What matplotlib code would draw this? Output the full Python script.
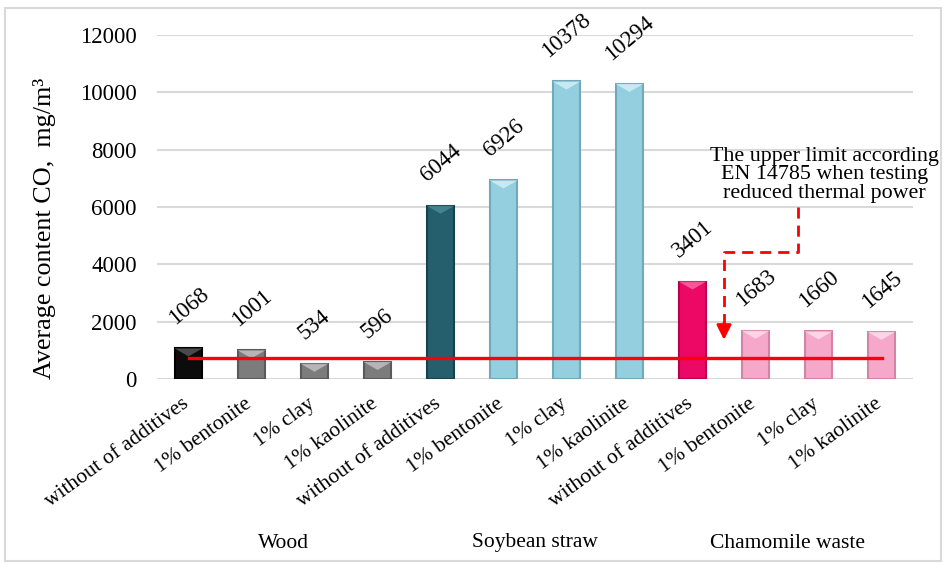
import matplotlib
matplotlib.use('Agg')
import matplotlib.pyplot as plt
import matplotlib.transforms as mtransforms
from matplotlib.patches import Polygon, Rectangle

plt.rcParams['font.family'] = ['Liberation Serif', 'DejaVu Serif']

groups = ['Wood', 'Soybean straw', 'Chamomile waste']
additives = ['without of additives', '1% bentonite', '1% clay', '1% kaolinite']
co_values = [1068, 1001, 534, 596,
             6044, 6926, 10378, 10294,
             3401, 1683, 1660, 1645]
co_limit = 750
yticks = [0, 2000, 4000, 6000, 8000, 10000, 12000]
note = 'The upper limit according\nEN 14785 when testing\nreduced thermal power'

# face / edge / highlight colours for each bar
main_cols = ['#0c0c0c', '#7c7c7c', '#7c7c7c', '#7c7c7c',
             '#255f6d', '#94cfe0', '#94cfe0', '#94cfe0',
             '#ec0865', '#f6a8ca', '#f6a8ca', '#f6a8ca']
edge_cols = ['#000000', '#5a5a5a', '#5a5a5a', '#5a5a5a',
             '#17414b', '#6fa9ba', '#6fa9ba', '#6fa9ba',
             '#b8004a', '#d383a6', '#d383a6', '#d383a6']
light_cols = ['#5a5a5a', '#c4c4c4', '#c4c4c4', '#c4c4c4',
              '#4f8a99', '#d4f0f8', '#d4f0f8', '#d4f0f8',
              '#ff6aa3', '#fde0ee', '#fde0ee', '#fde0ee']

labels = additives * len(groups)
x = list(range(len(co_values)))
width = 0.44

fig = plt.figure(figsize=(9.46, 5.63), dpi=100)
ax = fig.add_axes([157 / 946, 1 - 379 / 563, 756 / 946, 344 / 563])

ax.bar(x, co_values, width=width, color=main_cols, edgecolor=edge_cols,
       linewidth=1.5, zorder=3)
# light bevel on the top of every bar
bevel = 280
for i, v in zip(x, co_values):
    tri = Polygon([(i - width / 2, v), (i + width / 2, v), (i, v - bevel)],
                  closed=True, facecolor=light_cols[i], edgecolor='none',
                  alpha=0.8, zorder=4)
    ax.add_patch(tri)
    ax.annotate(str(v), (i, v), xytext=(0, 14), textcoords='offset points',
                rotation=40, ha='center', va='bottom', fontsize=16.5,
                annotation_clip=False)

# limit line
ax.plot([x[0], x[-1]], [co_limit, co_limit], color='#ff0000', lw=2.4, zorder=5)

# dashed pointer from the note down to the limit line
ax.plot([9.68, 9.68, 8.5, 8.5], [5990, 4440, 4440, 1950], color='#ff0000',
        lw=2, dashes=(4, 2.5), zorder=5)
ax.annotate('', xy=(8.5, 1365), xytext=(8.5, 1960),
            arrowprops=dict(arrowstyle='-|>', color='#ff0000', lw=2,
                            mutation_scale=22, shrinkA=0, shrinkB=0), zorder=5)
ax.text(10.1, 6150, note, ha='center', va='bottom', fontsize=15.8,
        linespacing=0.95, zorder=6)

ax.set_xlim(-0.5, len(co_values) - 0.5)
ax.set_ylim(0, 12000)
ax.set_yticks(yticks)
ax.set_yticklabels([str(t) for t in yticks], fontsize=16.4)
ax.tick_params(axis='y', length=0, pad=14.5)
ax.grid(axis='y', color='#d9d9d9', lw=1.5, zorder=0)
ax.set_axisbelow(True)
for s in ax.spines.values():
    s.set_visible(False)

ax.set_xticks(x)
ax.set_xticklabels(labels, rotation=36, ha='right', va='top', fontsize=15.5)
ax.tick_params(axis='x', length=0, pad=11)
shift = mtransforms.ScaledTranslation(4 / 100, 0, fig.dpi_scale_trans)
for lab in ax.get_xticklabels():
    lab.set_transform(lab.get_transform() + shift)

# group names under the rotated labels
trans = mtransforms.blended_transform_factory(ax.transData, fig.transFigure)
for g, name in enumerate(groups):
    ax.text(g * 4 + 1.5, 1 - 543 / 563, name, transform=trans,
            ha='center', va='center', fontsize=15.5)

fig.text(45 / 946, 1 - 228 / 563, 'Average content CO,  mg/m³', rotation=90,
         ha='center', va='center', fontsize=18.8)

# thin frame round the whole chart
fig.patches.append(Rectangle((5 / 946, 2 / 563), 936 / 946, 553 / 563,
                             transform=fig.transFigure, fill=False,
                             edgecolor='#d9d9d9', lw=1.5))

fig.savefig('out.png', dpi=100)
